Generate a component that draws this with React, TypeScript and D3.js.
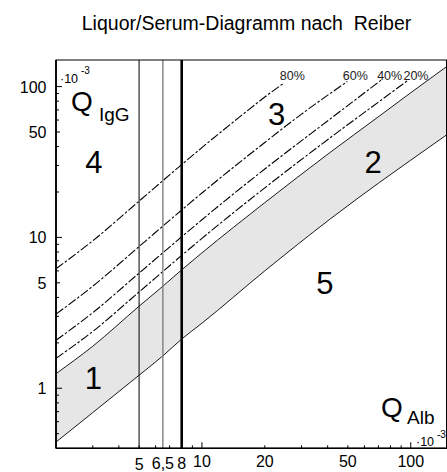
import { useEffect, useRef } from "react";
import * as d3 from "d3";

// Q_Alb grid (x 10^-3) for the reference band
const qAlb = [2, 3, 5, 6.5, 8, 10, 20, 41, 71, 100, 150];
// upper limit of the normal range (Q_lim IgG)
const upperLimit = [1.25, 1.9, 3.5, 4.75, 6.1, 7.9, 17, 36.5, 64, 91, 137];
// lower limit of the normal range
const lowerLimit = [0.44, 0.69, 1.22, 1.64, 2.12, 2.7, 6.0, 13.2, 23.2, 32.5, 48.3];

// intrathecal fraction lines (20/40/60/80 %)
const p20Alb = [2, 3, 5, 8, 10, 20, 41, 71, 97];
const p20IgG = [1.58, 2.38, 4.35, 7.6, 9.85, 21.3, 45.6, 80, 110];
const p40Alb = [2, 3, 5, 8, 10, 20, 41, 72.6];
const p40IgG = [2.08, 3.17, 5.8, 10.1, 13.1, 28.4, 60.8, 111];
const p60Alb = [2, 3, 5, 8, 10, 20, 30, 49.7];
const p60IgG = [3.1, 4.75, 8.7, 15.2, 19.7, 42.6, 65.7, 108];
const p80Alb = [2, 3, 5, 8, 10, 15, 20, 24.8];
const p80IgG = [6.2, 9.5, 17.4, 30.4, 39.4, 62.2, 85.2, 106];
const percentLabels = ["20%", "40%", "60%", "80%"];

// vertical age lines in Q_Alb
const ageLines = [5, 6.5, 8];

// axis ticks
const xTickLabels = [5, 6.5, 8, 10, 20, 50, 100];
const xMinorTicks = [3, 4, 5, 6, 7, 8, 9, 20, 30, 40, 50, 60, 70, 80, 90];
const xMajorTicks = [10, 100];
const yTickLabels = [1, 5, 10, 50, 100];
const yMinorTicks = [0.5, 0.6, 0.7, 0.8, 0.9, 2, 3, 4, 6, 7, 8, 9, 20, 30, 40, 60, 70, 80, 90];
const yMidTicks = [5, 50];
const yMajorTicks = [1, 10, 100];

// region numbers
const regionNames = ["1", "2", "3", "4", "5"];
const regionAlb = [3.02, 66, 22.8, 3.04, 38.8];
const regionIgG = [0.985, 26.8, 56, 26.6, 4.23];

const FONT = "'Liberation Sans', Arial, Helvetica, sans-serif";

function App() {
	const ref = useRef(null);

	useEffect(() => {
		const svg = d3.select(ref.current);
		svg.selectAll("*").remove();

		const left = 56;
		const right = 447.5;
		const top = 60;
		const bottom = 448.3;

		const x = d3.scaleLog().domain([2, 150]).range([left, right]);
		const y = d3.scaleLog().domain([0.4, 150]).range([bottom, top]);

		svg
			.append("text")
			.attr("x", 246.5)
			.attr("y", 30)
			.attr("text-anchor", "middle")
			.attr("font-size", 19.5)
			.text("Liquor/Serum-Diagramm nach  Reiber")
			.style("white-space", "pre");

		svg
			.append("clipPath")
			.attr("id", "plotclip")
			.append("rect")
			.attr("x", left)
			.attr("y", top)
			.attr("width", right - left)
			.attr("height", bottom - top);

		const plot = svg.append("g").attr("clip-path", "url(#plotclip)");

		// grey reference band
		const band = qAlb.map((q, i) => ({ q, lo: lowerLimit[i], hi: upperLimit[i] }));
		const area = d3
			.area()
			.x((d) => x(d.q))
			.y0((d) => y(d.lo))
			.y1((d) => y(d.hi))
			.curve(d3.curveMonotoneX);
		plot.append("path").datum(band).attr("d", area).attr("fill", "#e6e6e6");

		const line = d3
			.line()
			.x((d) => x(d[0]))
			.y((d) => y(d[1]))
			.curve(d3.curveMonotoneX);

		[upperLimit, lowerLimit].forEach((vals) => {
			plot
				.append("path")
				.datum(qAlb.map((q, i) => [q, vals[i]]))
				.attr("d", line)
				.attr("fill", "none")
				.attr("stroke", "#000")
				.attr("stroke-width", 0.9);
		});

		const pLines = [
			[p20Alb, p20IgG],
			[p40Alb, p40IgG],
			[p60Alb, p60IgG],
			[p80Alb, p80IgG],
		];
		pLines.forEach(([xs, ys], k) => {
			plot
				.append("path")
				.datum(xs.map((q, i) => [q, ys[i]]))
				.attr("d", line)
				.attr("fill", "none")
				.attr("stroke", "#000")
				.attr("stroke-width", 1.1)
				.attr("stroke-dasharray", "9,2,2.5,2");
			const last = xs.length - 1;
			svg
				.append("text")
				.attr("x", x(xs[last]) + 8)
				.attr("y", 80)
				.attr("text-anchor", "middle")
				.attr("font-size", 12.5)
				.attr("fill", "#222")
				.text(percentLabels[k]);
		});

		// vertical lines
		const vStyle = [
			{ c: "#000", w: 1 },
			{ c: "#777", w: 1.3 },
			{ c: "#000", w: 2.6 },
		];
		ageLines.forEach((q, i) => {
			svg
				.append("line")
				.attr("x1", x(q))
				.attr("x2", x(q))
				.attr("y1", top)
				.attr("y2", bottom)
				.attr("stroke", vStyle[i].c)
				.attr("stroke-width", vStyle[i].w);
		});

		// frame
		svg
			.append("rect")
			.attr("x", left)
			.attr("y", top)
			.attr("width", right - left - 1)
			.attr("height", bottom - top)
			.attr("fill", "none")
			.attr("stroke", "#000")
			.attr("stroke-width", 1);
		svg
			.append("line")
			.attr("x1", left)
			.attr("x2", left)
			.attr("y1", top)
			.attr("y2", bottom)
			.attr("stroke", "#000")
			.attr("stroke-width", 1.8);
		svg
			.append("line")
			.attr("x1", left)
			.attr("x2", right)
			.attr("y1", bottom)
			.attr("y2", bottom)
			.attr("stroke", "#000")
			.attr("stroke-width", 1.5);

		// ticks
		const tick = (g, vals, len, axis) => {
			vals.forEach((v) => {
				if (axis === "x") {
					g.append("line")
						.attr("x1", x(v))
						.attr("x2", x(v))
						.attr("y1", bottom)
						.attr("y2", bottom - len)
						.attr("stroke", "#000")
						.attr("stroke-width", 1);
				} else {
					g.append("line")
						.attr("x1", left)
						.attr("x2", left + len)
						.attr("y1", y(v))
						.attr("y2", y(v))
						.attr("stroke", "#000")
						.attr("stroke-width", 1);
				}
			});
		};
		const ticks = svg.append("g");
		tick(ticks, xMinorTicks, 3, "x");
		tick(ticks, xMajorTicks, 6, "x");
		tick(ticks, yMinorTicks, 3, "y");
		tick(ticks, yMidTicks, 4, "y");
		tick(ticks, yMajorTicks, 6, "y");

		svg
			.append("g")
			.selectAll("text")
			.data(xTickLabels)
			.enter()
			.append("text")
			.attr("x", (d) => x(d))
			.attr("y", (d) => (d < 10 ? (d === 5 ? 470 : 469) : 467))
			.attr("text-anchor", "middle")
			.attr("font-size", 16)
			.text((d) => String(d).replace(".", ","));

		svg
			.append("g")
			.selectAll("text")
			.data(yTickLabels)
			.enter()
			.append("text")
			.attr("x", 46.5)
			.attr("y", (d) => y(d) + 6)
			.attr("text-anchor", "end")
			.attr("font-size", 16)
			.text((d) => d);

		// region numbers
		svg
			.append("g")
			.selectAll("text")
			.data(regionNames)
			.enter()
			.append("text")
			.attr("x", (d, i) => x(regionAlb[i]))
			.attr("y", (d, i) => y(regionIgG[i]))
			.attr("text-anchor", "middle")
			.attr("font-size", 31)
			.text((d) => d);

		// axis titles
		const title = (tx, ty, sub, sx, sy, ex, ey) => {
			const g = svg.append("g");
			g.append("text").attr("x", tx).attr("y", ty).attr("font-size", 28).text("Q");
			g.append("text").attr("x", sx).attr("y", sy).attr("font-size", 19).text(sub);
			g.append("text").attr("x", ex).attr("y", ey).attr("font-size", 12.5).text("\u00b710");
			g.append("text").attr("x", ex + 21).attr("y", ey - 8.5).attr("font-size", 10).text("-3");
		};
		title(71, 111, "IgG", 99, 120.5, 60, 82.5);
		title(381, 417, "Alb", 407, 423.5, 416, 446);
	}, []);

	return (
		<svg
			ref={ref}
			width={447}
			height={472}
			style={{ position: "absolute", left: 0, top: 0, fontFamily: FONT, background: "#fff" }}
		/>
	);
}

export default App;
